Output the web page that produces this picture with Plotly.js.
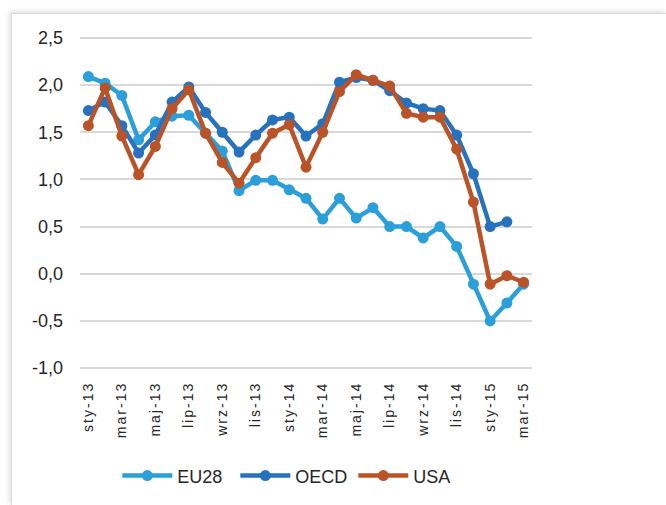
<!DOCTYPE html>
<html>
<head>
<meta charset="utf-8">
<script src="https://cdn.plot.ly/plotly-3.0.1.min.js"></script>
<style>
  html, body { margin: 0; padding: 0; background: #ffffff; width: 666px; height: 505px; overflow: hidden; }
  #frame { position: absolute; left: 11px; top: 13px; width: 655px; height: 492px;
           border-left: 1px solid #d9d9d9; border-top: 1px solid #d9d9d9;
           box-shadow: -2px -2px 5px rgba(0,0,0,0.12); background: #fff; }
  #chart { position: absolute; left: 0; top: 0; width: 655px; height: 492px; }
  .xtick text { letter-spacing: 2px; }
  .legend .legendlines path { d: path("M3,0h50"); }
  .legend .legendsymbols .scatterpts { transform: translate(28px, 0px); }
</style>
</head>
<body>
<div id="frame"><div id="chart"></div></div>
<script>
const months = ["sty-13","lut-13","mar-13","kwi-13","maj-13","cze-13","lip-13","sie-13","wrz-13","paź-13","lis-13","gru-13",
                "sty-14","lut-14","mar-14","kwi-14","maj-14","cze-14","lip-14","sie-14","wrz-14","paź-14","lis-14","gru-14",
                "sty-15","lut-15","mar-15"];
const tickLabels = ["sty-13","mar-13","maj-13","lip-13","wrz-13","lis-13","sty-14","mar-14","maj-14","lip-14","wrz-14","lis-14","sty-15","mar-15"];
const yTickVals = [-1.0, -0.5, 0.0, 0.5, 1.0, 1.5, 2.0, 2.5];
const yTickText = ["-1,0","-0,5","0,0","0,5","1,0","1,5","2,0","2,5"];

const eu28 = [2.09, 2.02, 1.89, 1.42, 1.61, 1.67, 1.68, 1.49, 1.30, 0.88, 0.99, 0.99, 0.89, 0.80, 0.58, 0.80, 0.59, 0.70, 0.50, 0.50, 0.38, 0.50, 0.29, -0.11, -0.50, -0.31, -0.11];
const oecd = [1.73, 1.82, 1.57, 1.28, 1.47, 1.82, 1.98, 1.71, 1.50, 1.29, 1.47, 1.63, 1.66, 1.46, 1.59, 2.03, 2.08, 2.05, 1.94, 1.81, 1.75, 1.73, 1.47, 1.06, 0.50, 0.55, null];
const usa  = [1.57, 1.97, 1.46, 1.05, 1.35, 1.75, 1.95, 1.49, 1.18, 0.96, 1.23, 1.49, 1.58, 1.13, 1.50, 1.93, 2.11, 2.05, 1.99, 1.70, 1.66, 1.66, 1.32, 0.76, -0.11, -0.02, -0.09];

const seriesNames = ["EU28", "OECD", "USA"];
const seriesColors = ["#2B9FD9", "#2672BF", "#BA5428"];
const seriesData = [eu28, oecd, usa];

const traces = seriesData.map((d, i) => ({
  type: "scatter",
  mode: "lines+markers",
  name: seriesNames[i],
  x: months,
  y: d,
  line: { color: seriesColors[i], width: 4.5 },
  marker: { color: seriesColors[i], size: 11 },
  connectgaps: false
}));

const fontFam = "'Liberation Sans', Arial, sans-serif";

const layout = {
  width: 655,
  height: 492,
  margin: { l: 68, r: 135, t: 22, b: 134 },
  paper_bgcolor: "rgba(0,0,0,0)",
  plot_bgcolor: "#ffffff",
  showlegend: true,
  font: { family: fontFam, color: "#262626" },
  xaxis: {
    type: "category",
    categoryorder: "array",
    categoryarray: months,
    range: [-0.5, 26.5],
    tickmode: "array",
    tickvals: tickLabels,
    ticktext: tickLabels,
    tickangle: -90,
    tickfont: { size: 14, family: fontFam, color: "#262626" },
    showgrid: false,
    showline: false,
    ticks: "",
    ticklabelstandoff: 8,
    zeroline: false,
    fixedrange: true
  },
  yaxis: {
    range: [-1.02, 2.52],
    tickmode: "array",
    tickvals: yTickVals,
    ticktext: yTickText,
    tickfont: { size: 18, family: fontFam, color: "#262626" },
    showgrid: true,
    gridcolor: "#d9d9d9",
    gridwidth: 2,
    zeroline: false,
    showline: false,
    ticks: "",
    ticklabelstandoff: 16,
    fixedrange: true
  },
  legend: {
    orientation: "h",
    x: 0.087,
    xanchor: "left",
    y: -0.317,
    yanchor: "middle",
    font: { size: 18, family: fontFam, color: "#262626" },
    itemwidth: 48,
    entrywidth: 55,
    bgcolor: "rgba(0,0,0,0)"
  }
};

Plotly.newPlot("chart", traces, layout, { displayModeBar: false, staticPlot: true });
</script>
</body>
</html>
